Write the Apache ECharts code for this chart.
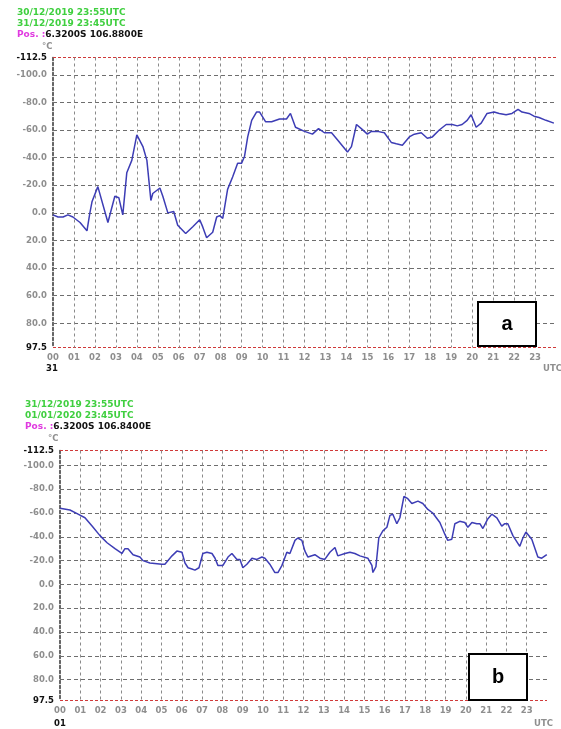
<!DOCTYPE html>
<html><head><meta charset="utf-8">
<script src="https://cdn.jsdelivr.net/npm/echarts@6/dist/echarts.min.js"></script>
<style>html,body{margin:0;padding:0;background:#fff}#c{width:561px;height:729px}</style>
</head><body><div id="c"></div>
<script>
const yTicks = [-112.5,-100,-80,-60,-40,-20,0,20,40,60,80,97.5];
const hourTicks = [0,1,2,3,4,5,6,7,8,9,10,11,12,13,14,15,16,17,18,19,20,21,22,23];

const hoursA = [0,0.24,0.48,0.71,0.95,1.29,1.62,1.76,1.86,2.14,2.62,2.95,3.14,3.33,3.52,3.76,4.0,4.29,4.48,4.67,4.76,5.1,5.24,5.48,5.76,5.95,6.33,6.67,7.0,7.14,7.33,7.62,7.81,7.95,8.1,8.33,8.57,8.81,9.0,9.14,9.29,9.48,9.71,9.86,10.14,10.43,10.81,11.14,11.33,11.57,12.0,12.38,12.67,12.95,13.29,13.57,14.05,14.24,14.48,14.71,15.0,15.19,15.48,15.81,16.14,16.38,16.67,17.0,17.24,17.57,17.86,18.1,18.43,18.76,19.05,19.29,19.52,19.76,19.95,20.19,20.43,20.71,21.05,21.29,21.62,21.9,22.19,22.38,22.71,22.95,23.19,23.52,23.9];
const tempA = [1.5,3,3,1.5,3,7,13,0,-8,-19,7,-12,-11,1.5,-29,-38,-56.5,-48,-38,-9,-14,-18,-12,0,-1,9,15,10,5,10,18,14,3,2,4,-17,-26,-36,-36,-41,-55,-67,-73,-73,-66,-66,-68,-68,-72,-62,-59,-57,-61,-58,-58,-53,-44,-48,-64,-61,-57,-59,-59,-58,-51,-50,-49,-55,-57,-58,-54,-55,-60,-64,-64,-63,-64,-67,-71,-62,-65,-72,-73,-72,-71,-72,-75,-73,-72,-70,-69,-67,-65];

const hoursB = [0,0.49,0.89,1.23,1.58,1.97,2.32,2.71,3.05,3.2,3.35,3.6,3.94,4.09,4.43,5.02,5.17,5.52,5.76,6.01,6.16,6.31,6.5,6.65,6.85,7.04,7.24,7.49,7.64,7.78,8.03,8.28,8.47,8.72,8.87,9.01,9.21,9.46,9.7,9.95,10.1,10.34,10.59,10.74,10.94,11.18,11.33,11.58,11.72,11.92,12.07,12.22,12.56,12.81,13.05,13.3,13.55,13.69,14.04,14.29,14.53,14.78,15.17,15.37,15.42,15.57,15.71,15.91,16.11,16.26,16.4,16.6,16.75,16.95,17.14,17.34,17.64,17.88,18.13,18.37,18.72,18.97,19.11,19.31,19.46,19.7,19.95,20.1,20.3,20.54,20.69,20.84,21.08,21.28,21.53,21.77,21.92,22.07,22.32,22.66,22.81,22.96,23.25,23.55,23.74,23.99];
const tempB = [-64,-62.5,-59,-56,-49,-41,-35,-30,-26,-30,-30,-25,-23,-20,-18,-17,-17,-24,-28,-27,-18,-14,-13,-12,-14,-26,-27,-26,-22,-16,-16,-23,-26,-21,-21,-14,-17,-22,-21,-23,-22,-17,-10,-10,-16,-27,-26,-37,-39,-37,-28,-23,-25,-22,-21,-27,-31,-24,-26,-27,-26,-24,-22,-16,-10,-15,-39,-45,-48,-58,-59,-51,-56,-74,-72,-68,-70,-68,-63,-60,-52,-42,-37,-38,-51,-53,-52,-48,-52,-51,-51,-47,-55,-59,-56,-49,-51,-51,-41,-32,-39,-44,-38,-23,-22,-25];

const headerA = ['30/12/2019 23:55UTC', '31/12/2019 23:45UTC', '6.3200S 106.8800E'];
const headerB = ['31/12/2019 23:55UTC', '01/01/2020 23:45UTC', '6.3200S 106.8400E'];
const dayA = '31', dayB = '01';
const panelA = 'a', panelB = 'b';

const FF = '"DejaVu Sans", Verdana, sans-serif';
const GRAY = '#8e8e8e';
const pad2 = v => (v < 10 ? '0' : '') + v;

function gridMarks() {
  const d = yTicks.map((v, i) => ({
    yAxis: v,
    lineStyle: (i === 0 || i === yTicks.length - 1)
      ? { color: '#d03a3a', type: [3, 2], width: 1 }
      : { color: '#6e6e6e', type: [4, 3], width: 1 }
  }));
  hourTicks.slice(1).forEach(h => d.push({ xAxis: h, lineStyle: { color: '#8a8a8a', type: [3, 3], width: 1 } }));
  return d;
}

function xAx(g) {
  return {
    gridIndex: g, type: 'value', min: 0, max: 24,
    axisLine: { show: false }, axisTick: { show: false }, splitLine: { show: false },
    axisLabel: { customValues: hourTicks, formatter: v => pad2(v), color: GRAY, fontWeight: 'bold',
      fontSize: 8.5, fontFamily: FF, margin: 6 }
  };
}
function yAx(g) {
  return {
    gridIndex: g, type: 'value', inverse: true, min: -112.5, max: 97.5,
    axisLine: { show: true, lineStyle: { color: '#333', type: [3, 2], width: 1.5 } },
    axisTick: { show: false }, splitLine: { show: false },
    axisLabel: {
      customValues: yTicks, margin: 6,
      formatter: (v) => (v === -112.5 || v === 97.5) ? '{k|' + v.toFixed(1) + '}' : '{g|' + v.toFixed(1) + '}',
      rich: {
        k: { color: '#111', fontWeight: 'bold', fontSize: 8.5, fontFamily: FF },
        g: { color: GRAY, fontWeight: 'bold', fontSize: 8.5, fontFamily: FF }
      }
    }
  };
}
function ser(g, hrs, vals) {
  return {
    type: 'line', xAxisIndex: g, yAxisIndex: g, showSymbol: false, animation: false,
    data: hrs.map((h, i) => [h, vals[i]]),
    lineStyle: { color: '#3d3db5', width: 1.5 },
    markLine: { silent: true, symbol: 'none', z: 1, animation: false, label: { show: false },
      emphasis: { disabled: true }, data: gridMarks() }
  };
}

function header(x, y, lines) {
  const f = 'bold 9px ' + FF;
  return [
    { type: 'text', z: 100, style: { x: x, y: y, text: lines[0], font: f, fill: '#3fcf3f', textVerticalAlign: 'middle' } },
    { type: 'text', z: 100, style: { x: x, y: y + 10.5, text: lines[1], font: f, fill: '#3fcf3f', textVerticalAlign: 'middle' } },
    { type: 'text', z: 100, style: { x: x, y: y + 21.5, text: '{m|Pos. :}{k|' + lines[2] + '}', textVerticalAlign: 'middle',
      rich: { m: { fill: '#e03ae0', fontWeight: 'bold', fontSize: 9, fontFamily: FF },
              k: { fill: '#111', fontWeight: 'bold', fontSize: 9, fontFamily: FF } } } }
  ];
}
function box(x, y, w, h, t) {
  return [
    { type: 'rect', z: 100, shape: { x: x, y: y, width: w, height: h }, style: { fill: '#fff', stroke: '#000', lineWidth: 2 } },
    { type: 'text', z: 101, style: { x: x + w / 2, y: y + h / 2, text: t, font: 'bold 20px "Liberation Sans", Arial, sans-serif',
      fill: '#000', textAlign: 'center', textVerticalAlign: 'middle' } }
  ];
}
function small(x, y, t, color, align) {
  return { type: 'text', z: 100, style: { x: x, y: y, text: t, font: 'bold 8.5px ' + FF, fill: color,
    textAlign: align || 'left', textVerticalAlign: 'middle' } };
}

const chart = echarts.init(document.getElementById('c'), null, { renderer: 'canvas' });
chart.setOption({
  animation: false,
  backgroundColor: '#fff',
  grid: [
    { left: 53, top: 57.5, width: 503, height: 290 },
    { left: 60, top: 450.5, width: 487, height: 250 }
  ],
  xAxis: [xAx(0), xAx(1)],
  yAxis: [yAx(0), yAx(1)],
  series: [ser(0, hoursA, tempA), ser(1, hoursB, tempB)],
  graphic: [].concat(
    header(17, 13, headerA),
    header(25, 405, headerB),
    [small(42, 47, '°C', GRAY), small(48, 439, '°C', GRAY),
     small(52, 369, dayA, '#111', 'center'), small(60, 724, dayB, '#111', 'center'),
     small(543, 369, 'UTC', GRAY), small(534, 724, 'UTC', GRAY)],
    box(478, 302, 58, 44, panelA),
    box(469, 654, 58, 46, panelB)
  )
});
</script>
</body></html>
